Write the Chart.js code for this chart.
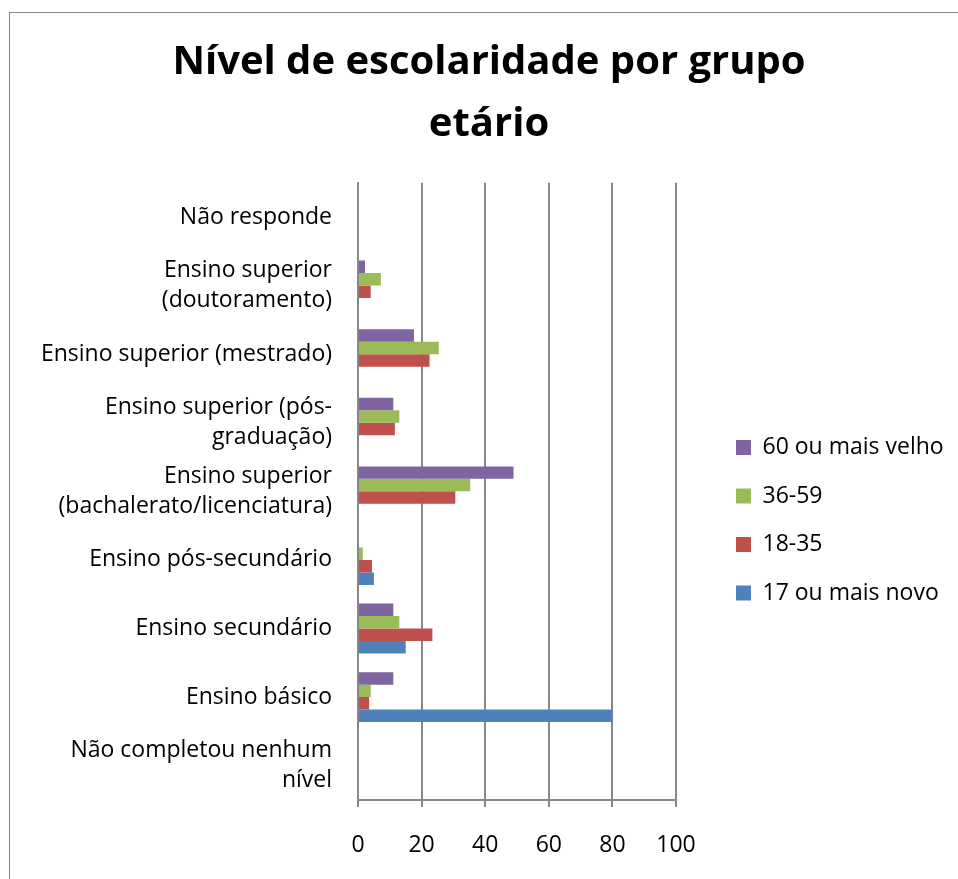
<!DOCTYPE html>
<html>
<head>
<meta charset="utf-8">
<script src="https://cdn.jsdelivr.net/npm/chart.js@4.4.1/dist/chart.umd.min.js"></script>
<style>
  html, body { margin: 0; padding: 0; background: #ffffff; }
  #wrap { position: relative; width: 958px; height: 879px; overflow: hidden; }
  #frame { position: absolute; left: 9px; top: 12px; width: 1200px; height: 1200px; border: 1px solid #868686; box-sizing: border-box; }
  #c { position: absolute; left: 0; top: 0; }
</style>
</head>
<body>
<div id="wrap">
  <div id="frame"></div>
  <canvas id="c" width="958" height="879"></canvas>
</div>
<script>
// ---- data (top-to-bottom display order) ----
const categories = [
  "Não responde",
  ["Ensino superior", "(doutoramento)"],
  "Ensino superior (mestrado)",
  ["Ensino superior (pós-", "graduação)"],
  ["Ensino superior", "(bachalerato/licenciatura)"],
  "Ensino pós-secundário",
  "Ensino secundário",
  "Ensino básico",
  ["Não completou nenhum", "nível"]
];
const seriesNames = ["60 ou mais velho", "36-59", "18-35", "17 ou mais novo"];
const values60plus = [null, 2.2, 17.6, 11.1, 48.9, null, 11.1, 11.1, null];
const values36to59 = [null, 7.2, 25.4, 13.0, 35.3, 1.5, 13.0, 4.0, null];
const values18to35 = [null, 4.0, 22.5, 11.6, 30.6, 4.4, 23.4, 3.5, null];
const values17less = [null, null, null, null, null, 5.0, 15.0, 80.0, null];
const seriesColors = ["#8064A2", "#9BBB59", "#C0504D", "#4F81BD"];
const xMin = 0, xMax = 100, xStep = 20;
const titleLines = ["Nível de escolaridade por grupo", "etário"];

const seriesValues = [values60plus, values36to59, values18to35, values17less];

const FONT = "'Open Sans', Lato, sans-serif";
const GRID = "#878787";

// keeps the legend's layout width fixed and places its items
const legendPlacement = {
  id: "legendPlacement",
  beforeLayout(chart, args, opts) {
    const lg = chart.legend;
    if (lg && !lg.__fixedWidth) {
      const fit = lg.fit;
      lg.fit = function () { fit.call(this); this.width = opts.layoutWidth; };
      lg.__fixedWidth = true;
    }
  },
  afterLayout(chart, args, opts) {
    const lg = chart.legend;
    if (!lg) return;
    const pad = lg.options.labels.padding;
    lg.left = opts.boxX - pad;
    lg.right = lg.left + lg.width;
    const h = lg.height;
    lg.top = opts.firstTop - pad;
    lg.bottom = lg.top + h;
  }
};

new Chart(document.getElementById("c"), {
  type: "bar",
  data: {
    labels: categories,
    datasets: seriesNames.map((name, i) => ({
      label: name,
      data: seriesValues[i],
      backgroundColor: seriesColors[i],
      borderWidth: 0
    }))
  },
  options: {
    indexAxis: "y",
    responsive: false,
    animation: false,
    devicePixelRatio: 1,
    categoryPercentage: 0.728,
    barPercentage: 1.0,
    layout: { padding: { left: 40, right: 20, top: 0, bottom: 0 } },
    scales: {
      x: {
        type: "linear",
        min: xMin, max: xMax,
        ticks: { stepSize: xStep, color: "#000", font: { family: FONT, size: 23 }, padding: 25 },
        grid: { color: GRID, lineWidth: 2, tickLength: 7, drawTicks: true, tickColor: GRID },
        border: { display: true, color: GRID, width: 2 },
        afterFit(s) { s.height = 79; }
      },
      y: {
        type: "category",
        ticks: { color: "#000", font: { family: FONT, size: 23, lineHeight: 1.31 }, padding: 26, autoSkip: false },
        grid: { display: false, drawTicks: false },
        border: { display: true, color: GRID, width: 2 },
        afterFit(s) { s.width = 318; }
      }
    },
    plugins: {
      title: {
        display: true,
        text: titleLines,
        color: "#000",
        font: { family: FONT, size: 40, weight: "bold", lineHeight: 1.55 },
        padding: { top: 31.5, bottom: 27.2 }
      },
      legend: {
        display: true,
        position: "right",
        align: "start",
        labels: {
          boxWidth: 15, boxHeight: 15, padding: 25.5,
          color: "#000",
          font: { family: FONT, size: 23 }
        }
      },
      legendPlacement: { boxX: 736, firstTop: 436, layoutWidth: 262 },
      tooltip: { enabled: false }
    }
  },
  plugins: [legendPlacement]
});
</script>
</body>
</html>
